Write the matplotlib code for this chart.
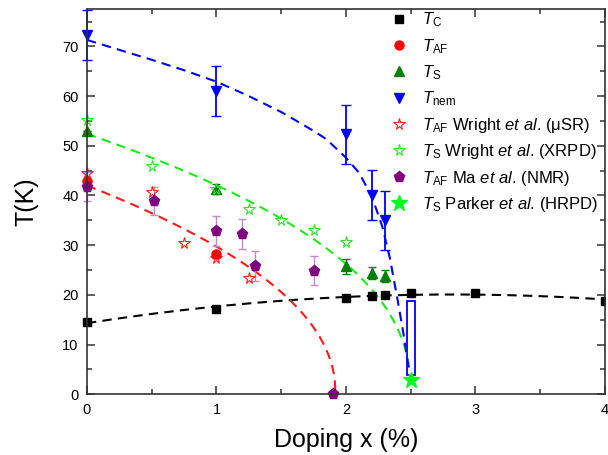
import matplotlib
matplotlib.use("Agg")
import matplotlib.pyplot as plt
from matplotlib.patches import Rectangle
import numpy as np

plt.rcParams['font.family'] = ['Liberation Sans', 'DejaVu Sans']
plt.rcParams['mathtext.fontset'] = 'custom'
plt.rcParams['mathtext.rm'] = 'Liberation Sans'
plt.rcParams['mathtext.it'] = 'Liberation Sans:italic'
plt.rcParams['mathtext.bf'] = 'Liberation Sans:bold'

# T_C (black squares)
x_c = [0, 1, 2, 2.2, 2.3, 2.5, 3, 4]
t_c = [14.6, 17.1, 19.4, 19.7, 20.05, 20.4, 20.3, 18.85]

# T_AF (red circles)
x_af = [0, 1]
t_af = [43.0, 28.3]

# T_S (green triangles)
x_s = [0, 1, 2, 2.2, 2.3]
t_s = [53.0, 41.3, 25.8, 24.4, 23.8]
e_s = [0, 1.0, 1.5, 1.2, 1.2]

# T_nem (blue down triangles)
x_nem = [0, 1, 2, 2.2, 2.3]
t_nem = [72.3, 61.0, 52.3, 40.1, 35.0]
e_nem = [5.0, 5.0, 6.0, 5.0, 6.0]
nem_box_x, nem_box_lo, nem_box_hi = 2.5, 3.9, 18.7

# Wright et al.
x_wr_af = [0, 0.5, 0.75, 1, 1.25]
t_wr_af = [44.6, 40.7, 30.4, 27.5, 23.3]
x_wr_s = [0, 0.5, 1, 1.25, 1.5, 1.75, 2.0]
t_wr_s = [55.1, 46.0, 41.3, 37.2, 35.1, 33.1, 30.7]

# Ma et al. (NMR)
x_ma = [0, 0.52, 1, 1.2, 1.3, 1.75, 1.9]
t_ma = [41.8, 38.9, 32.9, 32.2, 25.8, 24.9, 0]
e_ma = [3.0, 2.9, 3.0, 3.0, 3.0, 3.0, 0]

# Parker et al. (HRPD)
x_pk = [2.5]
t_pk = [2.8]

# guide-to-the-eye curves
af_t0, af_xc, af_beta = 42.0, 1.92, 0.47
s_t0, s_xc, s_beta = 52.4, 2.5, 0.43
x_nem_guide = [0, 0.25, 0.5, 0.75, 1.0, 1.25, 1.5, 1.75, 1.85, 2.0, 2.1, 2.2, 2.28, 2.34, 2.40, 2.45, 2.49]
t_nem_guide = [71.3, 69.3, 67.3, 65.2, 62.9, 60.0, 56.8, 53.0, 51.3, 47.6, 44.6, 39.8, 33.8, 27.3, 18.8, 11.3, 4.3]

fig = plt.figure(figsize=(6.08, 4.55), dpi=100)
ax = fig.add_axes([0.143, 0.1334, 0.852, 0.8466])

dash = dict(lw=1.5, ls=(0, (4.5, 3)))

xx = np.linspace(0, 4, 200)
p = np.polyfit(x_c, t_c, 2)
ax.plot(xx, np.polyval(p, xx), color='black', **dash)

xx = np.linspace(0, af_xc, 300)
ax.plot(xx, af_t0 * (1 - xx / af_xc) ** af_beta, color='#ff1a1a', **dash)

xx = np.linspace(0, s_xc - 0.002, 300)
ax.plot(xx, s_t0 * (1 - xx / s_xc) ** s_beta, color='#1ee61e', **dash)

ax.plot(x_nem_guide, t_nem_guide, color='#0000ff', **dash)

ax.add_patch(Rectangle((nem_box_x - 0.03, nem_box_lo), 0.06, nem_box_hi - nem_box_lo,
                       fill=False, edgecolor='#0000ff', lw=1.3))

ax.errorbar(x_ma, t_ma, yerr=e_ma, fmt='none', ecolor='#c48ac4', elinewidth=1, capsize=3, clip_on=False)
ax.errorbar(x_s, t_s, yerr=e_s, fmt='none', ecolor='#007a00', elinewidth=1, capsize=3, clip_on=False)
ax.errorbar(x_nem, t_nem, yerr=e_nem, fmt='none', ecolor='#0000ff', elinewidth=1.3, capsize=3.5, clip_on=False)

h_c, = ax.plot(x_c, t_c, 's', color='black', ms=5.5, label=r'$T_{\mathrm{C}}$')
h_c.set_clip_path(Rectangle((-0.1, -0.1), 1.1, 1.2, transform=ax.transAxes))
h_wr_af, = ax.plot(x_wr_af, t_wr_af, '*', mfc='none', mec='#ff2020', mew=0.8, ms=8.5,
                   label=r'$T_{\mathrm{AF}}$ Wright $\mathit{et\ al}$. (μSR)', clip_on=False)
h_af, = ax.plot(x_af, t_af, 'o', color='#ff0000', ms=6.5, label=r'$T_{\mathrm{AF}}$', clip_on=False)
h_ma, = ax.plot(x_ma, t_ma, 'p', color='#800080', ms=8, label=r'$T_{\mathrm{AF}}$ Ma $\mathit{et\ al}$. (NMR)', clip_on=False)
h_s, = ax.plot(x_s, t_s, '^', color='#008000', ms=7.5, label=r'$T_{\mathrm{S}}$', clip_on=False)
h_wr_s, = ax.plot(x_wr_s, t_wr_s, '*', mfc='none', mec='#33e033', mew=0.8, ms=8.5,
                  label=r'$T_{\mathrm{S}}$ Wright $\mathit{et\ al}$. (XRPD)', clip_on=False)
h_nem, = ax.plot(x_nem, t_nem, 'v', color='#0000ff', ms=7.5, label=r'$T_{\mathrm{nem}}$', clip_on=False)
h_pk, = ax.plot(x_pk, t_pk, '*', color='#00ff22', ms=12, label=r'$T_{\mathrm{S}}$ Parker $\mathit{et\ al}$. (HRPD)', clip_on=False)

ax.set_xlim(0, 4)
ax.set_ylim(0, 77.5)
ax.set_xticks([0, 1, 2, 3, 4])
ax.set_xticks(np.arange(0.5, 4, 1), minor=True)
ax.set_yticks(np.arange(0, 71, 10))
ax.set_yticks(np.arange(5, 76, 10), minor=True)
ax.tick_params(which='both', direction='in', top=True, right=True, color='#333333', width=1.1, labelsize=10.5, pad=6)
ax.tick_params(which='major', length=6)
ax.tick_params(which='minor', length=3.5)
for s in ax.spines.values():
    s.set_color('#333333')
    s.set_linewidth(1.2)

ax.set_xlabel('Doping x (%)', fontsize=18, labelpad=8)
ax.set_ylabel('T(K)', fontsize=18, labelpad=17)

handles = [h_c, h_af, h_s, h_nem, h_wr_af, h_wr_s, h_ma, h_pk]
ax.legend(handles=handles, loc='upper left', bbox_to_anchor=(0.583, 1.0), frameon=False,
          fontsize=12, borderpad=0.1, handlelength=1.0, handletextpad=0.9, labelspacing=0.45,
          borderaxespad=0)

fig.savefig('out.png', dpi=100)
